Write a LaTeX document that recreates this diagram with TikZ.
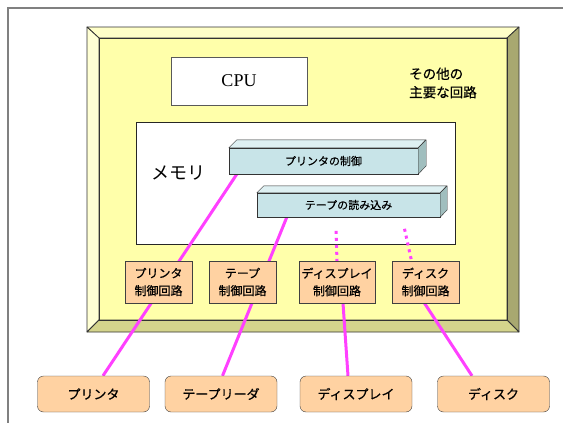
\documentclass[tikz,border=0pt]{standalone}
\usepackage{fontspec}
\setmainfont{Liberation Serif}
\newfontfamily\jp{Noto Sans CJK JP}
\newfontfamily\jpb{Noto Sans CJK JP}[FakeBold=0.5]
\usetikzlibrary{calc}
\definecolor{peach}{RGB}{255,210,162}
\definecolor{barfront}{RGB}{200,228,232}
\definecolor{bartop}{RGB}{222,240,242}
\definecolor{barside}{RGB}{160,190,190}
\definecolor{linkpink}{RGB}{255,64,255}
\definecolor{bvface}{RGB}{255,255,170}
\definecolor{bvtop}{RGB}{255,255,200}
\definecolor{bvleft}{RGB}{255,255,212}
\definecolor{bvright}{RGB}{168,168,112}
\definecolor{bvbottom}{RGB}{212,212,140}
\pgfdeclarelayer{background}
\pgfdeclarelayer{lines}
\pgfsetlayers{background,lines,main}
\begin{document}
\begin{tikzpicture}[x=1pt,y=-1pt,
  ctrl/.style={draw=black!75, fill=peach, minimum width=67pt, minimum height=42pt, inner sep=0pt, align=center, font=\jpb\fontsize{12}{17.5}\selectfont},
  dev/.style={draw=black!75, fill=peach, rounded corners=6pt, minimum width=112pt, minimum height=36pt, inner sep=0pt, font=\jpb\fontsize{13}{14}\selectfont},
  bar/.style={draw=black!80, fill=barfront, inner sep=0pt, font=\jpb\fontsize{11}{12}\selectfont},
  barface/.style={draw=black!80, line join=round},
  bevel/.style={draw=black!80, line width=0.8pt, line join=round},
  link/.style={draw=linkpink, line width=3pt},
  dotlink/.style={link, dash pattern=on 3pt off 4pt}]
\useasboundingbox (0,0) rectangle (563,423);
\begin{pgfonlayer}{background}
\draw[gray, line width=1.2pt] (8,423) -- (8,8) -- (563,8);
% bevel frame
\fill[bvface] (99,38) rectangle (507,320);
\draw[bevel, fill=bvtop] (87,27) -- (519,27) -- (507,38) -- (99,38) -- cycle;
\draw[bevel, fill=bvleft] (87,27) -- (99,38) -- (99,320) -- (87,332) -- cycle;
\draw[bevel, fill=bvright] (519,27) -- (519,332) -- (507,320) -- (507,38) -- cycle;
\draw[bevel, fill=bvbottom] (87,332) -- (519,332) -- (507,320) -- (99,320) -- cycle;
\draw[black!80] (99,38) rectangle (507,320);
\end{pgfonlayer}
% CPU
\node[draw=black!65, fill=white, minimum width=136pt, minimum height=48pt, inner sep=0pt, font=\fontsize{18}{20}\selectfont] (cpu) at (239,81) {CPU};
\node[anchor=west, align=left, inner sep=0pt, font=\jpb\fontsize{13.5}{18.5}\selectfont] (other) at (409,83) {その他の\\主要な回路};
% memory
\begin{pgfonlayer}{background}
\node[draw=black!85, fill=white, minimum width=319pt, minimum height=122pt, inner sep=0pt] (mem) at (295.5,183) {};
\end{pgfonlayer}
\node[font=\jp\fontsize{18}{20}\selectfont, inner sep=0pt] (memlabel) at (178,173) {メモリ};
% bars
\node[bar, minimum width=189pt, minimum height=26pt] (b1) at (323.5,161) {プリンタの制御};
\draw[barface, fill=bartop] (b1.north west) -- ++(8,-8) -- ++(189,0) -- (b1.north east) -- cycle;
\draw[barface, fill=barside] (b1.north east) -- ++(8,-8) -- ++(0,26) -- (b1.south east) -- cycle;
\node[bar, minimum width=183pt, minimum height=24pt] (b2) at (348.5,205) {テープの読み込み};
\draw[barface, fill=bartop] (b2.north west) -- ++(7,-7) -- ++(183,0) -- (b2.north east) -- cycle;
\draw[barface, fill=barside] (b2.north east) -- ++(7,-7) -- ++(0,24) -- (b2.south east) -- cycle;
% control circuits
\node[ctrl] (pc) at (158.5,282) {プリンタ\\制御回路};
\node[ctrl] (tc) at (242.5,282) {テープ\\制御回路};
\node[ctrl, minimum width=76pt] (dc) at (337,282) {ディスプレイ\\制御回路};
\node[ctrl] (kc) at (425.5,282) {ディスク\\制御回路};
% devices
\node[dev] (p) at (93.5,394) {プリンタ};
\node[dev] (t) at (221,394) {テープリーダ};
\node[dev] (d) at (356,394) {ディスプレイ};
\node[dev] (k) at (493.5,394) {ディスク};
% connectors
\begin{pgfonlayer}{lines}
\draw[link] ($(b1.south west)+(8,0)$) -- ($(p.north)+(9.5,0)$);
\draw[link] ($(b2.south west)+(30,0)$) -- ($(t.north)+(1.5,0)$);
\draw[dotlink] ($(dc.north)+(-1,-30)$) -- (dc.north);
\draw[link] ($(dc.south)+(6,0)$) -- ($(d.north)+(-8,0)$);
\draw[dotlink] ($(kc.north)+(-21,-32)$) -- ($(kc.north)+(-14,0)$);
\draw[link] ($(kc.south)+(-1,0)$) -- ($(k.north)+(-21.5,0)$);
\end{pgfonlayer}
\end{tikzpicture}
\end{document}
